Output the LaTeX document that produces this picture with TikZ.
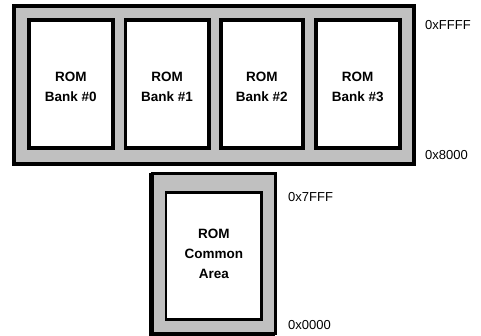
\documentclass[tikz,border=0pt]{standalone}
\usepackage{fontspec}
\setmainfont{Liberation Sans}
\definecolor{fillgray}{HTML}{C0C0C0}
\begin{document}
\begin{tikzpicture}[x=1pt,y=-1pt,
  outerbox/.style={draw=black,fill=fillgray,line width=3.8pt},
  bankbox/.style={draw=black,fill=white,line width=3.6pt},
  commonbox/.style={draw=black,fill=white,line width=2.8pt},
  banklabel/.style={font=\fontsize{13.5}{20}\selectfont\bfseries,align=center,inner sep=0pt},
  addr/.style={font=\fontsize{13}{14}\selectfont,anchor=west,inner sep=0pt}]
\useasboundingbox (0,0) rectangle (481,336);
% top banked region
\draw[outerbox] (14.3,5.7) rectangle (413.7,163.7);
\draw[bankbox] (28.7,20.3) rectangle (113,148.3);
\draw[bankbox] (125.3,20.3) rectangle (208.7,148.3);
\draw[bankbox] (221,20.3) rectangle (302.7,148.3);
\draw[bankbox] (315.7,20.3) rectangle (399.7,148.3);
\node[banklabel] (b0) at (70.8,86.5) {ROM\\Bank \#0};
\node[banklabel] (b1) at (167,86.5) {ROM\\Bank \#1};
\node[banklabel] (b2) at (261.8,86.5) {ROM\\Bank \#2};
\node[banklabel] (b3) at (357.7,86.5) {ROM\\Bank \#3};
\node[addr] (aFFFF) at (425,25) {0xFFFF};
\node[addr] (a8000) at (425,155) {0x8000};
% common area
\draw[outerbox,line width=3pt] (152,173.3) rectangle (275,333.5);
\draw[black,line width=2.5pt] (150.5,173.3) -- (150.5,334.5) -- (275,334.5);
\draw[commonbox] (166,192.3) rectangle (261.7,319.8);
\node[banklabel] (common) at (213.8,254) {ROM\\Common\\Area};
\node[addr] (a7FFF) at (288,197) {0x7FFF};
\node[addr] (a0000) at (288,325) {0x0000};
\end{tikzpicture}
\end{document}
